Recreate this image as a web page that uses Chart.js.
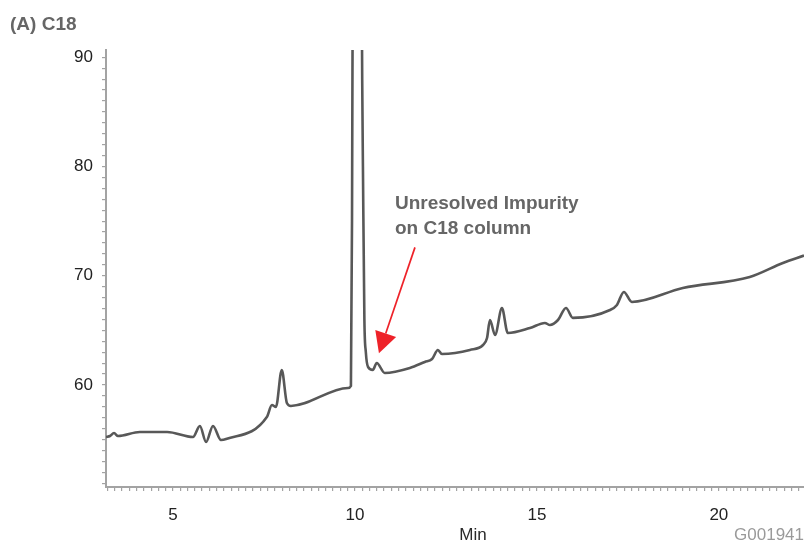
<!DOCTYPE html>
<html><head><meta charset="utf-8">
<script src="https://cdn.jsdelivr.net/npm/chart.js@4/dist/chart.umd.min.js"></script>
<style>html,body{margin:0;padding:0;background:#fff;}</style>
</head><body>
<canvas id="c" width="804" height="543"></canvas>
<script>
// ---- data ----
const timeMin = [3.16,3.27,3.38,3.49,4.09,4.84,5.55,5.74,5.91,6.10,6.32,6.46,7.58,7.72,7.83,7.99,8.13,8.24,9.81,9.89,9.92,9.95,10.10,10.18,10.20,10.22,10.26,10.30,10.36,10.49,10.60,10.82,11.51,11.92,12.12,12.28,12.39,13.16,13.52,13.63,13.71,13.85,14.04,14.20,14.81,15.22,15.36,15.58,15.80,15.99,17.01,17.20,17.39,17.61,19.01,20.85,21.76,22.34];
const signal  = [55.24,55.33,55.60,55.33,55.70,55.70,55.24,56.25,54.78,56.25,54.96,55.05,57.07,58.17,57.99,61.37,58.35,58.08,59.73,59.91,75,105,115,100,88,80,66,63,61.65,61.37,62.01,61.10,61.56,62.11,62.38,63.21,62.84,63.21,63.66,64.30,65.95,64.58,67.05,64.76,65.22,65.68,65.49,65.95,67.05,66.14,66.87,67.33,68.52,67.60,68.88,69.89,71.17,71.85];

const xTickLabels = [5, 10, 15, 20];
const yTickLabels = [60, 70, 80, 90];
const xRange = [3.16, 22.34];
const yRange = [50.66, 90.67];
const xMinorStep = 0.2;
const yMinorStep = 1;

const titleText = '(A) C18';
const xAxisTitle = 'Min';
const figureCode = 'G001941';
const noteLines = ['Unresolved Impurity', 'on C18 column'];
const arrowTail = {x: 11.65, y: 72.6};
const arrowTip  = {x: 10.66, y: 62.9};
const noteAnchor = {x: 11.10, y: 76.1};

// minor tick positions
const xMinorTicks = [];
for (let i = Math.ceil(xRange[0] / xMinorStep); i * xMinorStep <= xRange[1]; i++) xMinorTicks.push(Math.round(i * xMinorStep * 1000) / 1000);
const yMinorTicks = [];
for (let v = Math.ceil(yRange[0]); v <= Math.floor(yRange[1]); v += yMinorStep) yMinorTicks.push(v);

const FONT = "'Liberation Sans', Arial, sans-serif";
const AXIS = '#a3a3a3';

function labelFor(list) {
  return function (v) {
    const r = Math.round(v);
    return (Math.abs(v - r) < 1e-6 && list.includes(r)) ? String(r) : '';
  };
}

const notePlugin = {
  id: 'notes',
  afterDraw(chart) {
    const ctx = chart.ctx, xs = chart.scales.x, ys = chart.scales.y;
    ctx.save();
    ctx.font = '17px ' + FONT;
    ctx.textBaseline = 'middle';
    ctx.fillStyle = '#2a2a2a';
    ctx.textAlign = 'center';
    ctx.fillText(xAxisTitle, 473, 535);
    ctx.fillStyle = '#9a9a9a';
    ctx.textAlign = 'right';
    ctx.fillText(figureCode, 804, 535);
    ctx.font = 'bold 19px ' + FONT;
    ctx.fillStyle = '#666666';
    ctx.textAlign = 'left';
    ctx.textBaseline = 'alphabetic';
    const tx = xs.getPixelForValue(noteAnchor.x), ty = ys.getPixelForValue(noteAnchor.y);
    noteLines.forEach((t, i) => ctx.fillText(t, tx, ty + i * 25));
    const x0 = xs.getPixelForValue(arrowTail.x), y0 = ys.getPixelForValue(arrowTail.y);
    const x1 = xs.getPixelForValue(arrowTip.x), y1 = ys.getPixelForValue(arrowTip.y);
    const dx = x1 - x0, dy = y1 - y0, L = Math.hypot(dx, dy);
    const ux = dx / L, uy = dy / L, px = -uy, py = ux;
    const hl = 21, hw = 11;
    const bx = x1 - ux * hl, by = y1 - uy * hl;
    ctx.strokeStyle = '#ee2229';
    ctx.fillStyle = '#ee2229';
    ctx.lineWidth = 1.7;
    ctx.beginPath(); ctx.moveTo(x0, y0); ctx.lineTo(bx, by); ctx.stroke();
    ctx.beginPath();
    ctx.moveTo(x1, y1);
    ctx.lineTo(bx + px * hw, by + py * hw);
    ctx.lineTo(bx - px * hw, by - py * hw);
    ctx.closePath(); ctx.fill();
    ctx.restore();
  }
};

new Chart(document.getElementById('c'), {
  type: 'line',
  data: {
    datasets: [{
      data: timeMin.map((t, i) => ({x: t, y: signal[i]})),
      borderColor: '#585858',
      borderWidth: 2.6,
      pointRadius: 0,
      cubicInterpolationMode: 'monotone',
      fill: false
    }]
  },
  options: {
    responsive: false,
    animation: false,
    devicePixelRatio: 1,
    layout: {padding: {left: 10, right: 0, top: 0, bottom: 0}},
    plugins: {
      legend: {display: false},
      tooltip: {enabled: false},
      title: {
        display: true, text: titleText, align: 'start', color: '#666666',
        font: {family: FONT, size: 19, weight: 'bold'},
        padding: {top: 13, bottom: 14.2}
      }
    },
    scales: {
      x: {
        type: 'linear', min: xRange[0], max: xRange[1],
        afterBuildTicks: s => { s.ticks = xMinorTicks.map(v => ({value: v})); },
        afterFit: s => { s.height = 56; s.paddingLeft = 0; s.paddingRight = 0; },
        ticks: {autoSkip: false, maxRotation: 0, minRotation: 0, padding: 14, color: '#222', font: {family: FONT, size: 17}, callback: labelFor(xTickLabels)},
        grid: {drawOnChartArea: false, drawTicks: true, tickLength: 4, color: AXIS, lineWidth: 1.2},
        border: {display: true, color: AXIS, width: 2}
      },
      y: {
        type: 'linear', min: yRange[0], max: yRange[1],
        afterBuildTicks: s => { s.ticks = yMinorTicks.map(v => ({value: v})); },
        afterFit: s => { s.width = 96; },
        ticks: {autoSkip: false, padding: 9, color: '#222', font: {family: FONT, size: 17}, callback: labelFor(yTickLabels)},
        grid: {drawOnChartArea: false, drawTicks: true, tickLength: 4, color: AXIS, lineWidth: 1.2},
        border: {display: true, color: AXIS, width: 2}
      }
    }
  },
  plugins: [notePlugin]
});
</script>
</body></html>
